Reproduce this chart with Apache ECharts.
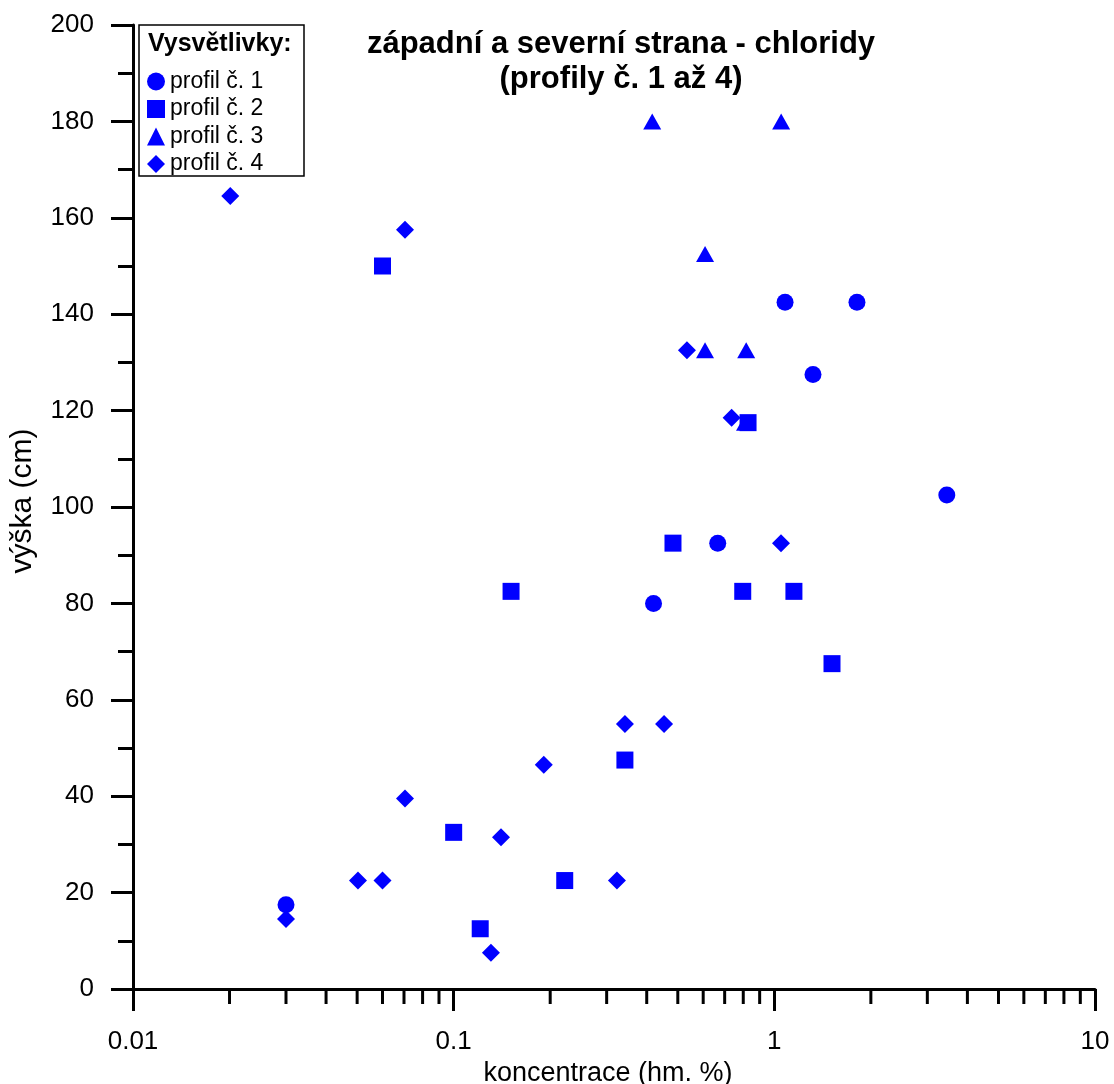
<!DOCTYPE html>
<html>
<head>
<meta charset="utf-8">
<script src="https://cdn.jsdelivr.net/npm/echarts@6/dist/echarts.min.js"></script>
<style>
html,body{margin:0;padding:0;background:#fff;}
#chart{width:1114px;height:1084px;}
</style>
</head>
<body>
<div id="chart"></div>
<script>
// ---- data (x = koncentrace hm. %, y = výška cm) ----
var profil1 = [[0.03, 17.5], [0.42, 80], [0.666, 92.5], [1.08, 142.5], [1.81, 142.5], [1.32, 127.5], [3.45, 102.5]];
var profil2 = [[0.06, 150], [0.828, 117.5], [0.483, 92.5], [0.151, 82.5], [0.797, 82.5], [1.151, 82.5], [1.513, 67.5], [0.342, 47.5], [0.1, 32.5], [0.222, 22.5], [0.121, 12.5]];
var profil3 = [[0.416, 180], [1.05, 180], [0.608, 152.5], [0.608, 132.5], [0.817, 132.5], [0.81, 117.5]];
var profil4 = [[0.0201, 164.5], [0.0705, 157.5], [0.534, 132.5], [0.736, 118.5], [1.049, 92.5], [0.453, 55], [0.342, 55], [0.191, 46.5], [0.0705, 39.5], [0.1405, 31.5], [0.0503, 22.5], [0.06, 22.5], [0.323, 22.5], [0.03, 14.5], [0.1307, 7.5]];
var seriesNames = ['profil č. 1', 'profil č. 2', 'profil č. 3', 'profil č. 4'];
var xTickLabels = ['0.01', '0.1', '1', '10'];
var xMinorTicks = [0.02, 0.03, 0.04, 0.05, 0.06, 0.07, 0.08, 0.09, 0.2, 0.3, 0.4, 0.5, 0.6, 0.7, 0.8, 0.9, 2, 3, 4, 5, 6, 7, 8, 9];
var titleText = 'západní a severní strana - chloridy\n(profily č. 1 až 4)';
var legendTitle = 'Vysvětlivky:';
var xName = 'koncentrace (hm. %)';
var yName = 'výška (cm)';

var FONT = '"Liberation Sans", Arial, Helvetica, sans-serif';
var BLUE = '#0000FF';

var chart = echarts.init(document.getElementById('chart'), null, {renderer: 'canvas'});

var option = {
  backgroundColor: '#ffffff',
  animation: false,
  textStyle: {fontFamily: FONT, color: '#000'},
  grid: {left: 133, right: 19, top: 25, bottom: 95, containLabel: false, outerBoundsMode: 'none'},
  legend: {
    data: seriesNames,
    orient: 'vertical',
    left: 139,
    top: 25,
    z: 10,
    padding: [45, 10, 10, 8],
    itemWidth: 18,
    itemHeight: 18,
    itemGap: 4.5,
    borderWidth: 0,
    textStyle: {fontSize: 23, color: '#000', fontFamily: FONT},
    selectedMode: false
  },
  xAxis: {
    type: 'log',
    logBase: 10,
    min: 0.01,
    max: 10,
    name: xName,
    nameLocation: 'middle',
    nameGap: 63,
    nameTextStyle: {fontSize: 27, color: '#000', fontFamily: FONT, padding: [0, 12, 0, 0]},
    axisLine: {show: true, onZero: false, lineStyle: {color: '#000', width: 3}},
    axisTick: {show: true, inside: false, length: 22, lineStyle: {color: '#000', width: 3}},
    minorTick: {show: false},
    splitLine: {show: false},
    minorSplitLine: {show: false},
    axisLabel: {
      fontSize: 26, color: '#000', fontFamily: FONT, margin: 40,
      formatter: function (v) {
        for (var i = 0; i < xTickLabels.length; i++) {
          if (Math.abs(Math.log10(+xTickLabels[i]) - Math.log10(v)) < 1e-6) return xTickLabels[i];
        }
        return '';
      }
    }
  },
  yAxis: {
    type: 'value',
    min: 0,
    max: 200,
    interval: 20,
    name: yName,
    nameLocation: 'middle',
    nameGap: 95,
    nameTextStyle: {fontSize: 30, color: '#000', fontFamily: FONT, padding: [0, 0, 0, 12]},
    axisLine: {show: true, onZero: false, lineStyle: {color: '#000', width: 3}},
    axisTick: {show: true, inside: false, length: 22, lineStyle: {color: '#000', width: 3}},
    minorTick: {show: true, splitNumber: 2, length: 15, lineStyle: {color: '#000', width: 3}},
    splitLine: {show: false},
    minorSplitLine: {show: false},
    axisLabel: {fontSize: 26, color: '#000', fontFamily: FONT, margin: 39}
  },
  graphic: [
    {
      type: 'text', x: 621, y: 27, z: 100,
      style: {text: titleText, font: 'bold 31px ' + FONT, fill: '#000', textAlign: 'center', textVerticalAlign: 'top', lineHeight: 35}
    },
    {
      type: 'rect', z: 0, zlevel: 0, silent: true,
      shape: {x: 139, y: 25, width: 165, height: 151},
      style: {fill: '#fff', stroke: '#000', lineWidth: 1.5}
    },
    {
      type: 'text', z: 100, x: 148, y: 44,
      style: {text: legendTitle, font: 'bold 25px ' + FONT, fill: '#000', textAlign: 'left', textVerticalAlign: 'middle'}
    }
  ],
  series: [
    {name: seriesNames[0], type: 'scatter', data: profil1, symbol: 'circle', symbolSize: 17, z: 3, itemStyle: {color: BLUE, opacity: 1}},
    {name: seriesNames[1], type: 'scatter', data: profil2, symbol: 'rect', symbolSize: 17, z: 4, itemStyle: {color: BLUE, opacity: 1}},
    {name: seriesNames[2], type: 'scatter', data: profil3, symbol: 'triangle', symbolSize: [18, 16], z: 3, itemStyle: {color: BLUE, opacity: 1}},
    {name: seriesNames[3], type: 'scatter', data: profil4, symbol: 'diamond', symbolSize: 18, z: 3, itemStyle: {color: BLUE, opacity: 1}},
    {
      name: 'minorTicks', type: 'custom', silent: true, clip: false, z: 1,
      data: xMinorTicks.map(function (v) { return [v, 0]; }),
      renderItem: function (params, api) {
        var p = api.coord([api.value(0), 0]);
        return {
          type: 'line',
          shape: {x1: p[0], y1: p[1], x2: p[0], y2: p[1] + 15},
          style: {stroke: '#000', lineWidth: 3}
        };
      }
    }
  ]
};

chart.setOption(option);
</script>
</body>
</html>
